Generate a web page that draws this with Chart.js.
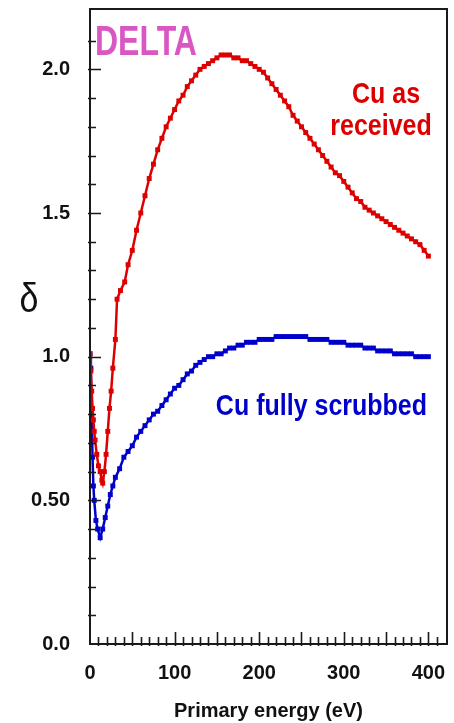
<!DOCTYPE html>
<html>
<head>
<meta charset="utf-8">
<script src="https://cdn.jsdelivr.net/npm/chart.js@4.4.1/dist/chart.umd.min.js"></script>
<style>
  html, body { margin: 0; padding: 0; background: #fff; }
  #wrap { width: 454px; height: 723px; }
</style>
</head>
<body>
<div id="wrap"><canvas id="deltaChart" width="454" height="723"></canvas></div>
<script>
// Cu as received
const energyReceived = [0, 1, 2, 3, 4, 5, 6, 8, 10, 12, 14, 15, 17, 19, 21, 23, 25, 27, 30, 32, 36, 41, 45, 50,
  55, 60, 65, 70, 75, 80, 85, 90, 95, 100, 105, 110, 115, 120, 125, 130, 135, 140, 145, 150, 155, 160,
  165, 170, 175, 180, 185, 190, 195, 200, 205, 210, 215, 220, 225, 230, 235, 240, 245, 250, 255, 260,
  265, 270, 275, 280, 285, 290, 295, 300, 305, 310, 315, 320, 325, 330, 335, 340, 345, 350, 355, 360,
  365, 370, 375, 380, 385, 390, 395, 400];
const deltaReceived = [1.01, 0.95, 0.88, 0.82, 0.78, 0.74, 0.71, 0.66, 0.62, 0.60, 0.57, 0.56, 0.60, 0.66, 0.74, 0.82, 0.88, 0.96, 1.06, 1.20, 1.23, 1.26, 1.32, 1.37,
  1.44, 1.50, 1.56, 1.62, 1.67, 1.72, 1.76, 1.80, 1.83, 1.86, 1.89, 1.91, 1.94, 1.96, 1.98, 2.00, 2.01, 2.02, 2.03, 2.04, 2.05, 2.05,
  2.05, 2.04, 2.04, 2.03, 2.03, 2.02, 2.01, 2.00, 1.99, 1.97, 1.95, 1.93, 1.91, 1.89, 1.87, 1.84, 1.82, 1.80, 1.78, 1.76,
  1.74, 1.72, 1.70, 1.68, 1.66, 1.64, 1.63, 1.61, 1.59, 1.57, 1.55, 1.54, 1.52, 1.51, 1.50, 1.49, 1.48, 1.47, 1.46, 1.45,
  1.44, 1.43, 1.42, 1.41, 1.40, 1.39, 1.37, 1.35];

// Cu fully scrubbed
const energyScrubbed = [0, 1, 2, 3, 4, 5, 7, 9, 12, 15, 18, 21, 24, 27, 30, 35, 40, 45, 50,
  55, 60, 65, 70, 75, 80, 85, 90, 95, 100, 105, 110, 115, 120, 125, 130, 135, 140, 145, 150, 155, 160,
  165, 170, 175, 180, 185, 190, 195, 200, 205, 210, 215, 220, 225, 230, 235, 240, 245, 250, 255, 260,
  265, 270, 275, 280, 285, 290, 295, 300, 305, 310, 315, 320, 325, 330, 335, 340, 345, 350, 355, 360,
  365, 370, 375, 380, 385, 390, 395, 400];
const deltaScrubbed = [1.01, 0.96, 0.79, 0.65, 0.55, 0.50, 0.43, 0.40, 0.37, 0.40, 0.44, 0.48, 0.52, 0.55, 0.58, 0.61, 0.65, 0.67, 0.69,
  0.72, 0.74, 0.76, 0.78, 0.80, 0.81, 0.83, 0.85, 0.87, 0.89, 0.90, 0.92, 0.94, 0.95, 0.97, 0.98, 0.99, 1.00, 1.00, 1.01, 1.01, 1.02,
  1.03, 1.03, 1.04, 1.04, 1.05, 1.05, 1.05, 1.06, 1.06, 1.06, 1.06, 1.07, 1.07, 1.07, 1.07, 1.07, 1.07, 1.07, 1.07, 1.06,
  1.06, 1.06, 1.06, 1.06, 1.05, 1.05, 1.05, 1.05, 1.04, 1.04, 1.04, 1.04, 1.03, 1.03, 1.03, 1.02, 1.02, 1.02, 1.02, 1.01,
  1.01, 1.01, 1.01, 1.01, 1.00, 1.00, 1.00, 1.00];

const xTickValues = [0, 100, 200, 300, 400];
const yTickValues = [0, 0.5, 1.0, 1.5, 2.0];
const yTickLabels = ['0.0', '0.50', '1.0', '1.5', '2.0'];

const RED = '#dd0000';
const BLUE = '#0000cc';
const FONT = '"Liberation Sans", Arial, Helvetica, sans-serif';

function pairs(xs, ys) {
  return xs.map((x, i) => ({ x: x, y: ys[i] }));
}

// text drawn a bit taller than the font's natural shape
function tallText(ctx, text, x, y, font, color, align, sy) {
  ctx.save();
  ctx.translate(x, y);
  ctx.scale(1, sy);
  ctx.font = font;
  ctx.fillStyle = color;
  ctx.textAlign = align;
  ctx.textBaseline = 'alphabetic';
  ctx.fillText(text, 0, 0);
  ctx.restore();
}

// frame, minor ticks and the in-plot notes
const framePlugin = {
  id: 'framePlugin',
  afterDraw(chart) {
    const ctx = chart.ctx;
    const a = chart.chartArea;
    const xs = chart.scales.x;
    const ys = chart.scales.y;

    ctx.save();
    ctx.strokeStyle = '#1a1a1a';
    ctx.lineWidth = 2;
    ctx.strokeRect(a.left, a.top, a.right - a.left, a.bottom - a.top);

    ctx.lineWidth = 1.6;
    ctx.beginPath();
    for (let i = 1; i <= 41; i++) {
      const px = Math.round(xs.getPixelForValue(i * 10)) + 0.5;
      const len = i % 5 === 0 ? 12 : 7;
      ctx.moveTo(px, a.bottom + 2);
      ctx.lineTo(px, a.bottom - len);
    }
    for (let i = 1; i <= 21; i++) {
      const py = Math.round(ys.getPixelForValue(i / 10)) + 0.5;
      const len = i % 5 === 0 ? 11 : 6;
      ctx.moveTo(a.left - 2, py);
      ctx.lineTo(a.left + len, py);
    }
    ctx.stroke();
    ctx.restore();

    tallText(ctx, 'DELTA', 95, 55, 'bold 32px ' + FONT, '#d957c3', 'left', 1.3);
    tallText(ctx, 'Cu as', 386, 103, 'bold 25px ' + FONT, RED, 'center', 1.2);
    tallText(ctx, 'received', 381, 135, 'bold 25px ' + FONT, RED, 'center', 1.2);
    tallText(ctx, 'Cu fully scrubbed', 427, 415, 'bold 25px ' + FONT, BLUE, 'right', 1.2);
    tallText(ctx, 'δ', 29, 312, '34px ' + FONT, '#111', 'center', 1.2);
  }
};

const ctx = document.getElementById('deltaChart');
const deltaChart = new Chart(ctx, {
  type: 'line',
  data: {
    datasets: [{
      label: 'Cu as received',
      data: pairs(energyReceived, deltaReceived),
      borderColor: RED,
      backgroundColor: RED,
      borderWidth: 2.5,
      pointStyle: 'rect',
      pointRadius: 3.5,
      pointBorderWidth: 0,
      fill: false,
      tension: 0
    }, {
      label: 'Cu fully scrubbed',
      data: pairs(energyScrubbed, deltaScrubbed),
      borderColor: BLUE,
      backgroundColor: BLUE,
      borderWidth: 2.5,
      pointStyle: 'rect',
      pointRadius: 3.5,
      pointBorderWidth: 0,
      fill: false,
      tension: 0
    }]
  },
  options: {
    responsive: false,
    animation: false,
    layout: { padding: { left: 0, right: 7, top: 9, bottom: 0 } },
    plugins: {
      legend: { display: false },
      tooltip: { enabled: false }
    },
    scales: {
      x: {
        type: 'linear',
        min: 0,
        max: 422,
        afterBuildTicks: (scale) => { scale.ticks = xTickValues.map(v => ({ value: v })); },
        afterFit: (scale) => {
          scale.height = 79;
          scale.paddingLeft = 0;
          scale.paddingRight = 0;
        },
        grid: { display: false, drawTicks: false },
        border: { display: false },
        ticks: {
          color: '#111',
          font: { family: FONT, size: 20, weight: 'bold' },
          padding: 17,
          maxRotation: 0
        },
        title: {
          display: true,
          text: 'Primary energy (eV)',
          color: '#111',
          font: { family: FONT, size: 20, weight: 'bold' },
          padding: { top: 0, bottom: 0 }
        }
      },
      y: {
        min: 0,
        max: 2.21,
        afterBuildTicks: (scale) => { scale.ticks = yTickValues.map(v => ({ value: v })); },
        afterFit: (scale) => {
          scale.width = 90;
          scale.paddingTop = 0;
          scale.paddingBottom = 0;
        },
        grid: { display: false, drawTicks: false },
        border: { display: false },
        ticks: {
          color: '#111',
          font: { family: FONT, size: 20, weight: 'bold' },
          padding: 20,
          callback: (value) => yTickLabels[yTickValues.indexOf(value)]
        }
      }
    }
  },
  plugins: [framePlugin]
});
</script>
</body>
</html>
